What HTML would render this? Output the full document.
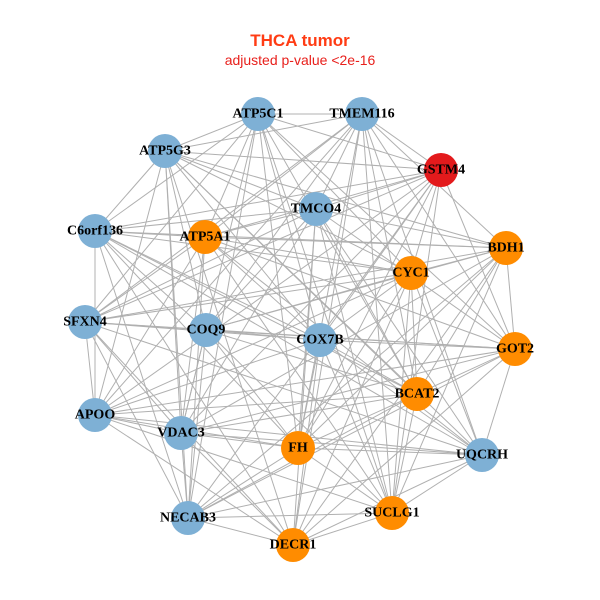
<!DOCTYPE html>
<html><head><meta charset="utf-8"><style>
html,body{margin:0;padding:0;background:#fff;width:600px;height:600px;overflow:hidden}
svg{display:block}
.l{font-family:"Liberation Serif",serif;font-weight:bold;font-size:14px;fill:#000;text-anchor:middle;dominant-baseline:central}
</style></head><body>
<svg id="s" width="600" height="600" viewBox="0 0 600 600">
<text x="300" y="46" text-anchor="middle" font-family="Liberation Sans,sans-serif" font-weight="bold" font-size="17" fill="#ff3c14">THCA tumor</text>
<text x="300" y="65" text-anchor="middle" font-family="Liberation Sans,sans-serif" font-size="14" fill="#e8201c">adjusted p-value &lt;2e-16</text>
<g id="e" stroke="#b0b0b0" stroke-width="1"></g>
<g id="n"></g>
<g>
<text class="l" x="258" y="114">ATP5C1</text>
<text class="l" x="362" y="114">TMEM116</text>
<text class="l" x="165" y="151">ATP5G3</text>
<text class="l" x="441" y="170">GSTM4</text>
<text class="l" x="316" y="209">TMCO4</text>
<text class="l" x="95" y="231">C6orf136</text>
<text class="l" x="205" y="237">ATP5A1</text>
<text class="l" x="506" y="248">BDH1</text>
<text class="l" x="411" y="273">CYC1</text>
<text class="l" x="85" y="322">SFXN4</text>
<text class="l" x="206" y="330">COQ9</text>
<text class="l" x="320" y="340">COX7B</text>
<text class="l" x="515" y="349">GOT2</text>
<text class="l" x="417" y="394">BCAT2</text>
<text class="l" x="95" y="415">APOO</text>
<text class="l" x="181" y="433">VDAC3</text>
<text class="l" x="298" y="448">FH</text>
<text class="l" x="482" y="455">UQCRH</text>
<text class="l" x="188" y="518">NECAB3</text>
<text class="l" x="392" y="513">SUCLG1</text>
<text class="l" x="293" y="545">DECR1</text>
</g>
</svg>
<script>
var N=[[258,114,'b'],[362,114,'b'],[165,151,'b'],[441,170,'r'],[316,209,'b'],[95,231,'b'],[205,237,'o'],[506,248,'o'],[411,273,'o'],[85,322,'b'],[206,330,'b'],[320,340,'b'],[515,349,'o'],[417,394,'o'],[95,415,'b'],[181,433,'b'],[298,448,'o'],[482,455,'b'],[188,518,'b'],[392,513,'o'],[293,545,'o']];
var C={b:'#7eb0d5',o:'#ff8c00',r:'#e31a1c'};
var ns='http://www.w3.org/2000/svg',e=document.getElementById('e'),g=document.getElementById('n');
for(var i=0;i<N.length;i++)for(var j=i+1;j<N.length;j++){
 if((i*7+j*13)%10<3)continue;
 var l=document.createElementNS(ns,'line');
 l.setAttribute('x1',N[i][0]);l.setAttribute('y1',N[i][1]);l.setAttribute('x2',N[j][0]);l.setAttribute('y2',N[j][1]);e.appendChild(l);}
N.forEach(function(p){var c=document.createElementNS(ns,'circle');c.setAttribute('cx',p[0]);c.setAttribute('cy',p[1]);c.setAttribute('r',17);c.setAttribute('fill',C[p[2]]);g.appendChild(c);});
</script>
</body></html>
